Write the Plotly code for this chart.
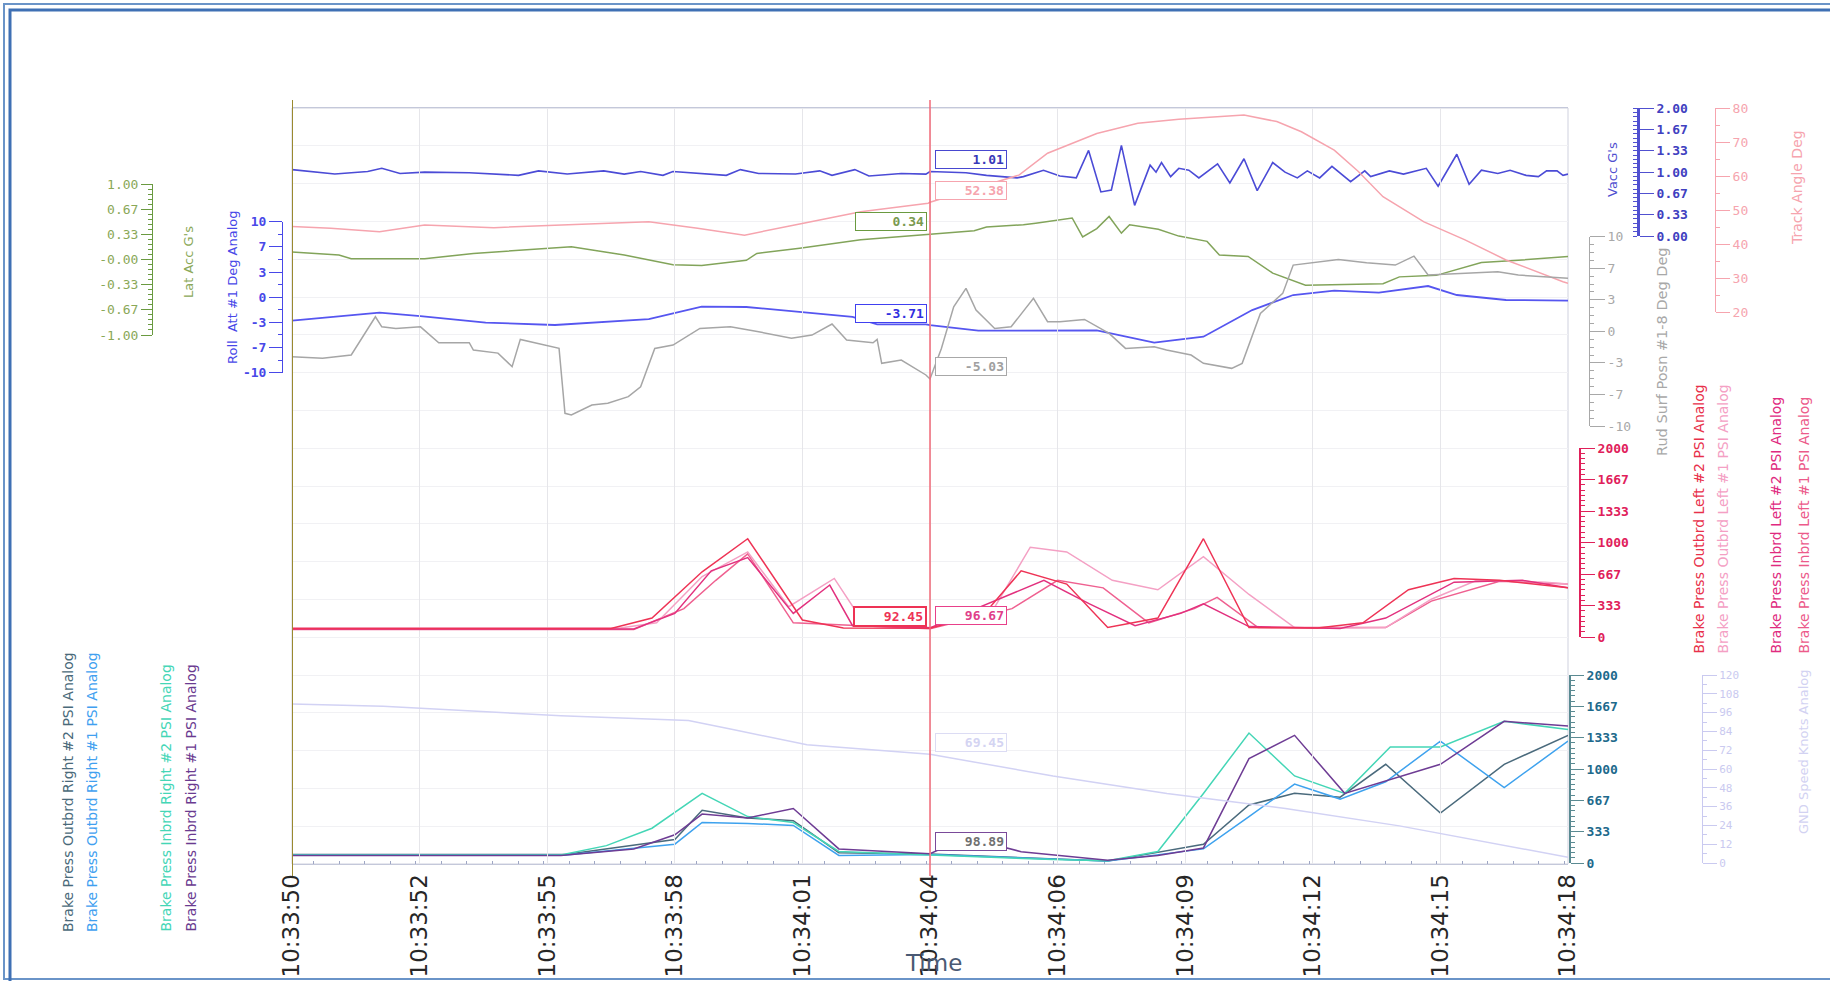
import plotly.graph_objects as go
from datetime import datetime, timedelta

# ---------------- DATA (time in seconds after 10:33:50) ----------------
vacc_t = [0, 0.31, 0.94, 1.66, 1.97, 2.37, 2.91, 3.89, 4.97, 5.41, 6.04, 6.84, 7.29, 7.65, 8.14, 8.36, 9.53, 9.84,
          10.24, 11.05, 11.58, 11.85, 12.35, 12.66, 12.84, 13.37, 13.91, 14.0, 14.79, 15.24, 15.91, 16.05, 16.49,
          16.85, 17.21, 17.48, 17.75, 17.98, 18.2, 18.49, 18.83, 18.96, 19.08, 19.28, 19.46, 19.68, 19.9, 20.31,
          20.58, 20.89, 21.18, 21.52, 21.79, 22.06, 22.28, 22.55, 22.82, 23.23, 23.54, 23.67, 24.08, 24.39, 24.89,
          25.15, 25.56, 25.83, 26.1, 26.46, 26.73, 27.08, 27.35, 27.53, 27.76, 27.89, 28.0]
vacc_v = [1.04, 1.02, 0.97, 1.01, 1.06, 0.98, 1.00, 0.99, 0.95, 1.02, 0.97, 1.02, 0.97, 1.01, 0.95, 1.01, 0.95, 1.04,
          0.98, 0.97, 1.02, 0.95, 1.04, 0.94, 0.95, 0.98, 0.97, 1.01, 0.99, 0.95, 0.91, 0.93, 1.03,
          0.94, 0.91, 1.34, 0.69, 0.72, 1.42, 0.48, 1.11, 1.00, 1.15, 0.93, 1.06, 1.03, 0.91, 1.13,
          0.83, 1.21, 0.71, 1.15, 1.00, 0.91, 1.02, 0.91, 1.09, 0.85, 1.02, 0.93, 1.02, 0.97, 1.06,
          0.78, 1.28, 0.81, 1.03, 0.98, 1.03, 0.95, 0.93, 1.02, 1.02, 0.95, 0.97]

track_t = [0, 0.85, 1.92, 2.91, 4.43, 6.22, 7.83, 8.90, 9.93, 11.14, 12.48, 13.96, 14.0, 15.96, 16.58, 17.66,
           18.56, 19.46, 20.89, 21.61, 22.15, 22.87, 23.40, 23.94, 24.84, 25.74, 26.64, 27.89, 28.0]
track_v = [45.2, 44.7, 43.7, 45.7, 44.9, 45.7, 46.6, 44.7, 42.7, 46.0, 49.6, 52.1, 52.38, 60.4, 66.8, 72.6,
           75.6, 76.8, 78.0, 76.1, 73.1, 67.7, 61.4, 54.0, 46.6, 41.3, 35.4, 29.0, 28.5]

latacc_t = [0, 1.03, 1.30, 2.91, 3.98, 6.13, 7.29, 8.36, 8.99, 9.97, 10.20, 11.14, 12.48, 13.91, 14.0, 14.97,
            15.24, 16.05, 16.32, 17.12, 17.35, 17.66, 17.93, 18.2, 18.38, 19.01, 19.46, 20.08, 20.35, 20.98,
            21.52, 22.24, 23.94, 24.3, 25.11, 26.1, 26.91, 27.89, 28.0]
latacc_v = [0.10, 0.06, 0.01, 0.01, 0.08, 0.17, 0.06, -0.07, -0.08, -0.01, 0.08, 0.15, 0.26, 0.33, 0.34, 0.38,
            0.43, 0.46, 0.48, 0.55, 0.30, 0.41, 0.57, 0.35, 0.46, 0.40, 0.31, 0.24, 0.06, 0.04,
            -0.18, -0.34, -0.32, -0.23, -0.21, -0.04, -0.01, 0.03, 0.04]

roll_t = [0, 1.92, 2.82, 4.25, 5.77, 7.83, 8.99, 9.97, 12.30, 12.84, 13.91, 14.0, 15.06, 17.66, 18.92, 20.0,
          21.07, 21.97, 22.87, 23.85, 24.93, 25.56, 26.64, 27.89, 28.0]
roll_v = [-3.11, -2.05, -2.5, -3.37, -3.68, -2.9, -1.25, -1.3, -2.6, -3.6, -3.6, -3.71, -4.43, -4.4, -6.02, -5.23,
          -1.7, 0.29, 0.86, 0.6, 1.48, 0.29, -0.37, -0.45, -0.45]

rud_t = [0, 0.67, 1.30, 1.83, 1.97, 2.28, 2.82, 3.22, 3.89, 3.98, 4.52, 4.83, 5.01, 5.68, 5.86, 5.99, 6.13,
         6.58, 6.93, 7.38, 7.65, 7.96, 8.36, 8.95, 9.62, 10.24, 10.96, 11.41, 11.85, 12.17, 12.75, 12.84,
         12.94, 13.37, 13.91, 14.0, 14.25, 14.52, 14.79, 15.01, 15.42, 15.78, 16.27, 16.58, 16.85, 17.39,
         17.93, 18.29, 18.92, 19.19, 19.73, 20.0, 20.62, 20.85, 21.25, 21.74, 21.97, 22.96, 23.58, 24.21,
         24.62, 24.93, 25.56, 26.46, 26.91, 27.89, 28.0]
rud_v = [-2.68, -2.85, -2.5, 1.54, 0.48, 0.31, 0.48, -1.2, -1.2, -1.97, -2.3, -3.73, -0.85, -1.62, -1.8, -8.66, -8.84,
         -7.78, -7.6, -6.9, -5.85, -1.8, -1.45, 0.31, 0.48, -0.04, -0.74, -0.39, 0.77, -0.92, -1.2, -0.85,
         -3.38, -3.03, -4.61, -5.03, -1.8, 2.6, 4.54, 2.25, 0.31, 0.48, 3.48, 1.02, 1.02, 1.26,
         -0.22, -1.8, -1.62, -1.98, -2.5, -3.38, -3.91, -3.38, 1.9, 4.01, 7.0, 7.6, 7.25, 7.0,
         7.95, 5.95, 6.12, 6.3, 5.95, 5.6, 5.6]

# Brake pressure, left (PSI)
bl_out2_t = [0, 7.0, 7.9, 9.0, 10.0, 11.2, 12.1, 14.0, 15.2, 16.0, 17.0, 17.9, 19.0, 20.0, 21.0, 22.5, 23.5, 24.5, 25.5, 26.5, 28.0]
bl_out2_v = [90, 90, 200, 690, 1040, 180, 95, 92.45, 250, 700, 560, 100, 200, 1040, 100, 95, 150, 500, 620, 600, 520]
bl_out1_t = [0, 7.2, 8.0, 9.0, 10.0, 10.9, 11.9, 12.5, 14.0, 15.4, 16.2, 17.0, 18.0, 19.0, 20.0, 21.0, 22.0, 23.0, 24.0, 25.0, 26.0, 27.5, 28.0]
bl_out1_v = [95, 95, 150, 640, 900, 320, 620, 180, 97, 300, 950, 900, 600, 500, 850, 450, 100, 95, 100, 400, 600, 580, 560]
bl_in2_t = [0, 7.5, 8.4, 9.2, 10.0, 11.0, 11.8, 12.3, 14.0, 15.4, 16.5, 17.5, 18.5, 19.5, 20.0, 21.0, 23.0, 24.0, 25.5, 27.0, 28.0]
bl_in2_v = [85, 85, 250, 700, 840, 250, 550, 120, 96.67, 380, 600, 350, 120, 250, 350, 110, 90, 200, 580, 600, 520]
bl_in1_t = [0, 7.5, 8.6, 9.3, 10.0, 11.0, 14.0, 15.8, 16.8, 17.8, 18.8, 19.8, 20.3, 21.2, 24.0, 25.0, 26.5, 28.0]
bl_in1_v = [80, 80, 300, 600, 880, 150, 88, 300, 600, 520, 150, 300, 420, 100, 100, 380, 590, 560]

# Brake pressure, right (PSI)
br_in2_t = [0, 5.9, 6.9, 7.9, 9.0, 10.0, 11.0, 12.0, 14.0, 16.7, 17.9, 19.0, 20.0, 21.0, 22.0, 23.1, 24.1, 25.2, 26.6, 28.0]
br_in2_v = [86, 86, 185, 370, 740, 494, 430, 123, 86, 37, 25, 123, 740, 1383, 926, 741, 1235, 1235, 1507, 1420]
br_in1_t = [0, 5.9, 7.5, 8.4, 9.0, 10.0, 11.0, 12.0, 14.0, 14.8, 16.0, 17.9, 19.0, 20.0, 21.0, 22.0, 23.1, 24.1, 25.2, 26.6, 28.0]
br_in1_v = [80, 80, 150, 300, 520, 480, 580, 150, 98.89, 272, 120, 30, 80, 160, 1111, 1358, 741, 889, 1050, 1507, 1457]
br_out2_t = [0, 6.0, 8.4, 9.0, 10.0, 11.0, 12.0, 14.0, 17.9, 20.0, 21.0, 22.0, 23.0, 24.0, 25.2, 26.6, 28.0]
br_out2_v = [90, 90, 250, 560, 480, 450, 110, 95, 20, 200, 617, 741, 700, 1050, 531, 1050, 1358]
br_out1_t = [0, 6.0, 8.4, 9.0, 10.0, 11.0, 12.0, 14.0, 17.9, 20.0, 21.0, 22.0, 23.0, 24.0, 25.2, 26.6, 28.0]
br_out1_v = [85, 85, 200, 432, 420, 400, 80, 90, 20, 150, 494, 840, 680, 864, 1296, 803, 1296]

gnd_t = [0, 2.0, 5.9, 8.7, 9.7, 11.3, 14.0, 16.7, 19.2, 21.8, 24.3, 28.0]
gnd_v = [101.5, 100.0, 94.0, 91.0, 85.0, 75.5, 69.45, 55.5, 44.4, 34.8, 23.7, 3.7]

CURSOR_T = 14.0
x_tick_step_ms = 2800

# ---------------- helpers ----------------
W, H = 1830, 981
T0 = datetime(2024, 1, 1, 10, 33, 50)


def ts(lst):
    return [T0 + timedelta(seconds=s) for s in lst]


def px(x):
    return x / W


def py(y):
    return 1 - y / H


fig = go.Figure()


def line(t, v, axis, color, width=1.5):
    fig.add_trace(go.Scatter(x=ts(t), y=v, yaxis=axis, mode="lines",
                             line=dict(color=color, width=width), hoverinfo="skip"))


C = dict(vacc="#4b4bd6", track="#f6a4ae", lat="#82a45a", roll="#5656f0", rud="#a6a6a6",
         lo2="#ee3355", lo1="#f4a0c4", li2="#e2307e", li1="#ef6090",
         ro2="#4a6a7c", ro1="#3ea2ee", ri2="#44d6b6", ri1="#6e3c94", gnd="#d2d2f4")

line(gnd_t, gnd_v, "y9", C["gnd"])
line(track_t, track_v, "y5", C["track"])
line(rud_t, rud_v, "y6", C["rud"])
line(latacc_t, latacc_v, "y2", C["lat"])
line(roll_t, roll_v, "y3", C["roll"], 1.8)
line(vacc_t, vacc_v, "y4", C["vacc"], 1.6)
line(bl_in1_t, bl_in1_v, "y7", C["li1"])
line(bl_out1_t, bl_out1_v, "y7", C["lo1"])
line(bl_in2_t, bl_in2_v, "y7", C["li2"])
line(bl_out2_t, bl_out2_v, "y7", C["lo2"])
line(br_out2_t, br_out2_v, "y8", C["ro2"])
line(br_out1_t, br_out1_v, "y8", C["ro1"])
line(br_in2_t, br_in2_v, "y8", C["ri2"])
line(br_in1_t, br_in1_v, "y8", C["ri1"])

# cursor markers (base axis, not clipped)
fig.add_trace(go.Scatter(x=ts([0, CURSOR_T]), y=[20.15, 20.15], yaxis="y", mode="markers", cliponaxis=False,
                         marker=dict(symbol=["triangle-down", "circle"], size=[9, 6], color=["#8a7a20", "#f06070"]),
                         hoverinfo="skip"))
fig.add_trace(go.Scatter(x=ts([0, CURSOR_T]), y=[-0.25, -0.12], yaxis="y", mode="markers", cliponaxis=False,
                         marker=dict(symbol=["circle", "triangle-up"], size=[6, 9], color=["#8a7a20", "#f05060"]),
                         hoverinfo="skip"))

XL, XR = 292, 1568
YT, YB = 108, 864

mono = "DejaVu Sans Mono"
sans = "DejaVu Sans"


def yax(ytop, ybot, rng, xpos, side, tickvals, ticktext, color, linecolor, ticklen, bold=False,
        minor_dtick=None, minor_side=None, linewidth=1, size=13):
    d = dict(domain=[py(ybot), py(ytop)], range=rng, anchor="free", position=px(xpos), side=side,
             tickmode="array", tickvals=tickvals, ticktext=ticktext, showgrid=False, zeroline=False,
             showline=True, linecolor=linecolor, linewidth=linewidth, ticks="outside", ticklen=ticklen,
             tickcolor=linecolor, tickwidth=1, fixedrange=True,
             tickfont=dict(family=mono, size=size, color=color, weight="bold" if bold else "normal"))
    if minor_dtick:
        d["minor"] = dict(tickmode="linear", tick0=rng[0], dtick=minor_dtick, ticks=minor_side or "outside",
                          ticklen=4, tickcolor=linecolor, showgrid=False)
    return d


thirds = lambda lo, hi: [lo + (hi - lo) * k / 6 for k in range(7)]

layout = dict(
    width=W, height=H, margin=dict(l=0, r=0, t=0, b=0, autoexpand=False), autosize=False,
    paper_bgcolor="white", plot_bgcolor="rgba(0,0,0,0)", showlegend=False,
    xaxis=dict(domain=[px(XL), px(XR)], anchor="y", type="date",
               range=[T0, T0 + timedelta(seconds=28)], tick0=T0, dtick=x_tick_step_ms, tickformat="%H:%M:%S",
               tickangle=-90, tickfont=dict(family=sans, size=23, color="#262626"),
               showgrid=True, gridcolor="#e6e6ea", gridwidth=1, showline=True, linecolor="#c4c8da",
               mirror=True, ticks="", zeroline=False, fixedrange=True,
               minor=dict(dtick=x_tick_step_ms / 5, ticks="inside", ticklen=3, tickcolor="#9ea6c4", showgrid=False)),
    yaxis=dict(domain=[py(YB), py(YT)], range=[0, 20], dtick=1, showgrid=True, gridcolor="#f1f1f4",
               showticklabels=False, showline=False, zeroline=False, fixedrange=True),
    yaxis2=yax(184, 335, [-1, 1], 152, "left", thirds(-1, 1),
               ["-1.00", "-0.67", "-0.33", "-0.00", "0.33", "0.67", "1.00"], "#8aa858", "#6a9a40", 11,
               minor_dtick=2 / 30),
    yaxis3=yax(221.7, 372.7, [-10, 10], 282, "left", thirds(-10, 10),
               ["-10", "-7", "-3", "0", "3", "7", "10"], "#4848e8", "#4848e8", 13, bold=True,
               minor_dtick=20 / 12),
    yaxis4=yax(108.3, 236, [0, 2], 1638, "right", thirds(0, 2),
               ["0.00", "0.33", "0.67", "1.00", "1.33", "1.67", "2.00"], "#4040c0", "#5050d0", 14, bold=True,
               minor_dtick=2 / 30, minor_side="inside", linewidth=3),
    yaxis5=yax(108.3, 312.3, [20, 80], 1715, "right", list(range(20, 81, 10)),
               [str(v) for v in range(20, 81, 10)], "#f6a4ae", "#f6a4ae", 14, minor_dtick=5),
    yaxis6=yax(236.7, 426, [-10, 10], 1589, "right", thirds(-10, 10),
               ["-10", "-7", "-3", "0", "3", "7", "10"], "#a8a8a8", "#a8a8a8", 15, minor_dtick=20 / 24),
    yaxis7=yax(448, 637, [0, 2000], 1580, "right", thirds(0, 2000),
               ["0", "333", "667", "1000", "1333", "1667", "2000"], "#e0205a", "#e0205a", 14, bold=True,
               minor_dtick=2000 / 36, linewidth=2),
    yaxis8=yax(675, 863, [0, 2000], 1570, "right", thirds(0, 2000),
               ["0", "333", "667", "1000", "1333", "1667", "2000"], "#1e6a8c", "#5a8a92", 13, bold=True,
               minor_dtick=2000 / 36, linewidth=2),
    yaxis9=yax(675, 863, [0, 120], 1702, "right", list(range(0, 121, 12)),
               [str(v) for v in range(0, 121, 12)], "#cacaf0", "#cacaf0", 14, size=11, minor_dtick=6),
)
fig.update_layout(**layout)

shapes = []
# plot frame
shapes.append(dict(type="rect", xref="x domain", yref="y domain", x0=0, x1=1, y0=0, y1=1,
                   line=dict(color="#cfd1de", width=1), layer="below"))
# cursors
shapes.append(dict(type="line", xref="x", yref="paper", x0=T0, x1=T0, y0=py(876), y1=py(100),
                   line=dict(color="#9a8a30", width=2), layer="above"))
tc = T0 + timedelta(seconds=CURSOR_T)
shapes.append(dict(type="line", xref="x", yref="paper", x0=tc, x1=tc, y0=py(876), y1=py(100),
                   line=dict(color="#f26a78", width=1.5), layer="above"))
# blue outer frame
shapes.append(dict(type="rect", xref="paper", yref="paper", x0=px(4), x1=px(1845), y0=py(979), y1=py(4),
                   line=dict(color="#6a94c8", width=2), layer="below"))
shapes.append(dict(type="rect", xref="paper", yref="paper", x0=px(10), x1=px(1845), y0=py(990), y1=py(10),
                   line=dict(color="#3f70b4", width=3), layer="below"))
fig.update_layout(shapes=shapes)

ann = []


def title(text, x, y, color, size, yanchor="middle"):
    ann.append(dict(text=text, x=px(x), y=py(y), xref="paper", yref="paper", showarrow=False, textangle=-90,
                    font=dict(family=sans, size=size, color=color), xanchor="center", yanchor=yanchor))


title("Lat Acc G's", 188, 262, "#8aa858", 13)
title("Roll  Att #1 Deg Analog", 232, 287, "#4848e8", 13)
title("Vacc G's", 1612, 170, "#5050d0", 13)
title("Track Angle Deg", 1797, 188, "#f6a4ae", 14)
title("Rud Surf Posn #1-8 Deg Deg", 1662, 352, "#a8a8a8", 14.5)
title("Brake Press Outbrd Left #2 PSI Analog", 1698, 656, "#e8304a", 14, "bottom")
title("Brake Press Outbrd Left #1 PSI Analog", 1722, 656, "#f4a0c4", 14, "bottom")
title("Brake Press Inbrd Left #2 PSI Analog", 1775, 656, "#e02a80", 14, "bottom")
title("Brake Press Inbrd Left #1 PSI Analog", 1803, 656, "#ec5a8a", 14, "bottom")
title("GND Speed Knots Analog", 1803, 752, "#d2d2f2", 13)
title("Brake Press Outbrd Right #2 PSI Analog", 68, 934, "#4a6a7a", 14, "bottom")
title("Brake Press Outbrd Right #1 PSI Analog", 92, 934, "#40a0f0", 14, "bottom")
title("Brake Press Inbrd Right #2 PSI Analog", 165, 934, "#44d6b6", 14, "bottom")
title("Brake Press Inbrd Right #1 PSI Analog", 190, 934, "#6a3a90", 14, "bottom")

ann.append(dict(text="Time", x=px(933), y=py(978), xref="paper", yref="paper", showarrow=False,
                xanchor="center", yanchor="bottom", font=dict(family=sans, size=23, color="#4a5a74")))


def box(text, axis, val, side, border, color, bw=1):
    ann.append(dict(text=text, x=tc, y=val, xref="x", yref=axis, showarrow=False,
                    xanchor="left" if side == "r" else "right", xshift=5 if side == "r" else -3, yshift=12,
                    width=66, height=13, align="right", bgcolor="white", bordercolor=border, borderwidth=bw,
                    borderpad=2, font=dict(family=mono, size=13, color=color, weight="bold")))


box("1.01", "y4", 1.01, "r", "#4848d0", "#3838b8")
box("52.38", "y5", 52.38, "r", "#f6a4ae", "#f6a4ae")
box("0.34", "y2", 0.34, "l", "#6a9a40", "#7a9a50")
box("-3.71", "y3", -3.71, "l", "#4040f0", "#3030e0")
box("-5.03", "y6", -5.03, "r", "#a8a8a8", "#a0a0a0")
box("92.45", "y7", 92.45, "l", "#ee3355", "#ee3355", 2)
box("96.67", "y7", 96.67, "r", "#e8408a", "#e0408a")
box("69.45", "y9", 69.45, "r", "#dcdcf4", "#d4d4f2")
box("98.89", "y8", 98.89, "r", "#7a4a9a", "#707070")

fig.update_layout(annotations=ann)

fig.write_html("out.html", config={"displayModeBar": False},
               post_script="document.body.style.margin='0px';document.body.style.overflow='hidden';"
                           "document.documentElement.style.overflow='hidden';")
